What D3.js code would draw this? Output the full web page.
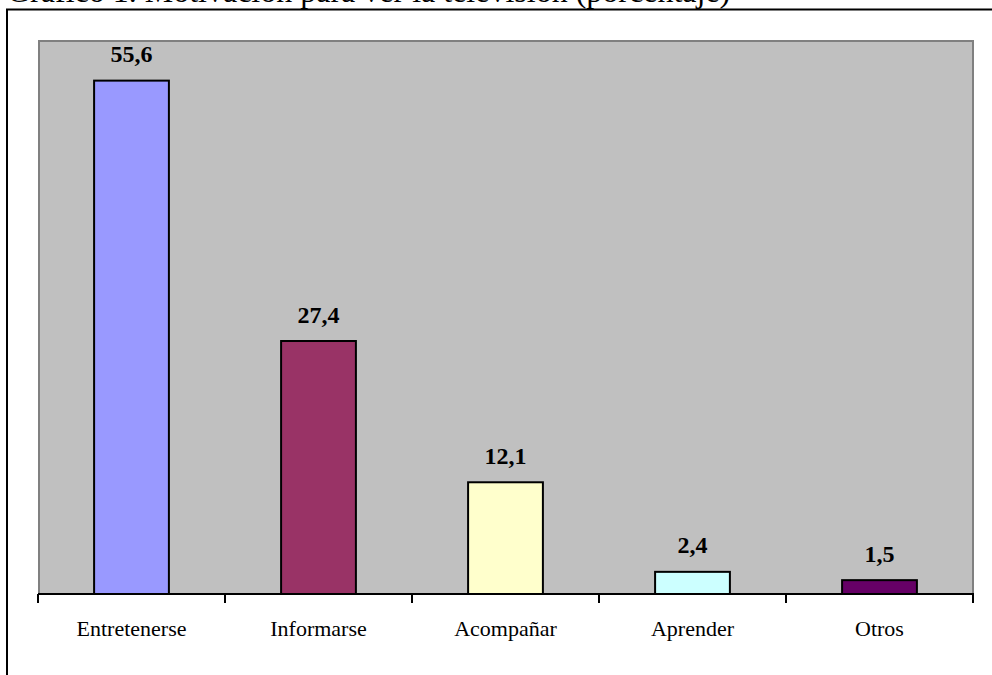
<!DOCTYPE html>
<html>
<head>
<meta charset="utf-8">
<script src="https://cdn.jsdelivr.net/npm/d3@7/dist/d3.min.js"></script>
<style>
  html, body { margin: 0; padding: 0; background: #ffffff; }
  svg { display: block; }
  text { font-family: "Liberation Serif", "Times New Roman", Times, serif; }
</style>
</head>
<body>
<script>
// Motivos para ver la televisión (porcentaje)
const categories = ["Entretenerse", "Informarse", "Acompañar", "Aprender", "Otros"];
const values = [55.6, 27.4, 12.1, 2.4, 1.5];
const valueLabels = ["55,6", "27,4", "12,1", "2,4", "1,5"];
const barColors = ["#9999FF", "#993366", "#FFFFCC", "#CCFFFF", "#660066"];
const titleText = "Gráfico 1. Motivación para ver la televisión (porcentaje)";

const W = 992, H = 675;
const plot = { left: 38, right: 974, top: 40, bottom: 594 };

const svg = d3.select("body").append("svg")
  .attr("width", W).attr("height", H);

// Title (partly above the page edge)
svg.append("text")
  .attr("x", 7).attr("y", 2)
  .attr("font-size", 32)
  .attr("fill", "#000")
  .text(titleText);

// Outer frame (left and top edges)
svg.append("path")
  .attr("d", `M7,${H} L7,9.5 L${W},9.5`)
  .attr("fill", "none")
  .attr("stroke", "#000")
  .attr("stroke-width", 2);

// Plot area
svg.append("rect")
  .attr("x", plot.left + 1).attr("y", plot.top + 1)
  .attr("width", plot.right - plot.left - 2)
  .attr("height", plot.bottom - plot.top - 1)
  .attr("fill", "#C0C0C0")
  .attr("stroke", "#808080")
  .attr("stroke-width", 2);

const x = d3.scaleBand()
  .domain(categories)
  .range([plot.left, plot.right - 1])
  .padding(0);

const y = d3.scaleLinear()
  .domain([0, 60])
  .range([plot.bottom, plot.top]);

const barW = x.bandwidth() * 0.4;

// Bars
svg.append("g").selectAll("rect")
  .data(categories)
  .join("rect")
  .attr("x", (d) => x(d) + (x.bandwidth() - barW) / 2)
  .attr("y", (d, i) => y(values[i]))
  .attr("width", barW)
  .attr("height", (d, i) => y(0) - y(values[i]))
  .attr("fill", (d, i) => barColors[i])
  .attr("stroke", "#000")
  .attr("stroke-width", 2);

// Value labels
svg.append("g").selectAll("text")
  .data(categories)
  .join("text")
  .attr("x", (d) => x(d) + x.bandwidth() / 2)
  .attr("y", (d, i) => y(values[i]) - 18.5)
  .attr("text-anchor", "middle")
  .attr("font-size", 24)
  .attr("font-weight", "bold")
  .attr("fill", "#000")
  .text((d, i) => valueLabels[i]);

// Category axis with ticks on band boundaries
const axisG = svg.append("g").attr("transform", `translate(0,${plot.bottom})`);
axisG.append("line")
  .attr("x1", plot.left).attr("x2", plot.right)
  .attr("y1", 0).attr("y2", 0)
  .attr("stroke", "#000").attr("stroke-width", 2);

const boundaries = categories.map((d) => x(d)).concat([x(categories[categories.length - 1]) + x.bandwidth()]);
axisG.selectAll("line.tick")
  .data(boundaries)
  .join("line")
  .attr("class", "tick")
  .attr("x1", (d) => d).attr("x2", (d) => d)
  .attr("y1", 0).attr("y2", 9)
  .attr("stroke", "#000").attr("stroke-width", 2);

axisG.selectAll("text")
  .data(categories)
  .join("text")
  .attr("x", (d) => x(d) + x.bandwidth() / 2)
  .attr("y", 42)
  .attr("text-anchor", "middle")
  .attr("font-size", 22)
  .attr("fill", "#000")
  .text((d) => d);
</script>
</body>
</html>
